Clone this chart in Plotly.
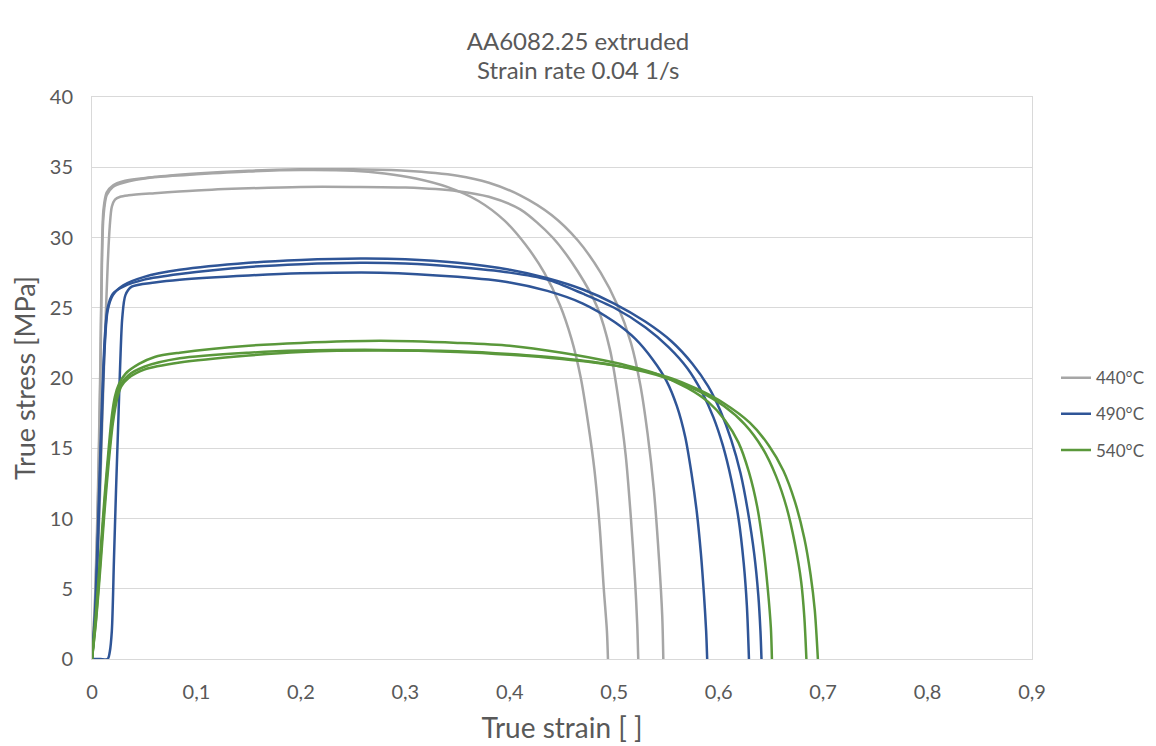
import plotly.graph_objects as go

# ---- data ----
temps = ["440°C", "490°C", "540°C"]
colors = {"440°C": "#A6A6A6", "490°C": "#2F5597", "540°C": "#5A983B"}
title_line1 = "AA6082.25 extruded"
title_line2 = "Strain rate 0.04 1/s"

# 440°C
g1_x = [0, 0.003, 0.006, 0.008, 0.0095, 0.011, 0.014, 0.02, 0.03, 0.06, 0.1, 0.15, 0.2, 0.25, 0.3, 0.35, 0.38, 0.41, 0.44, 0.465, 0.487, 0.503, 0.516, 0.525, 0.532, 0.538, 0.543, 0.546, 0.547]
g1_y = [0, 4, 12, 20, 28, 31.5, 33.0, 33.6, 33.9, 34.3, 34.55, 34.75, 34.85, 34.85, 34.75, 34.4, 33.9, 33.0, 31.6, 29.8, 27.5, 25.2, 22.5, 19.5, 16, 12, 7, 3, 0]
g2_x = [0, 0.003, 0.006, 0.008, 0.0095, 0.011, 0.014, 0.02, 0.03, 0.06, 0.1, 0.15, 0.2, 0.25, 0.28, 0.31, 0.34, 0.37, 0.395, 0.415, 0.433, 0.448, 0.459, 0.468, 0.475, 0.481, 0.486, 0.490, 0.493, 0.494]
g2_y = [0, 4.5, 13, 21, 29, 32, 33.2, 33.7, 34.0, 34.3, 34.5, 34.7, 34.8, 34.75, 34.55, 34.2, 33.6, 32.6, 31.2, 29.5, 27.5, 25.2, 22.8, 20, 16.8, 13.5, 9.5, 5, 2, 0]
g3_x = [0, 0.003, 0.006, 0.009, 0.012, 0.015, 0.017, 0.019, 0.022, 0.027, 0.035, 0.06, 0.1, 0.15, 0.2, 0.25, 0.3, 0.35, 0.38, 0.41, 0.441, 0.465, 0.484, 0.496, 0.504, 0.511, 0.516, 0.520, 0.522, 0.523]
g3_y = [0, 3, 8, 15, 22, 28, 30.8, 32.2, 32.7, 32.9, 33.0, 33.15, 33.35, 33.5, 33.6, 33.6, 33.55, 33.3, 32.9, 32.0, 30.0, 27.6, 25, 22, 18.5, 14.5, 10, 5.5, 2.5, 0]

# 490°C
b1_x = [0, 0.003, 0.006, 0.009, 0.012, 0.015, 0.02, 0.03, 0.05, 0.084, 0.15, 0.2, 0.257, 0.3, 0.35, 0.4, 0.436, 0.47, 0.5, 0.53, 0.555, 0.575, 0.59, 0.602, 0.612, 0.621, 0.628, 0.634, 0.638, 0.640, 0.641]
b1_y = [0, 3, 9, 16, 22, 24.8, 25.9, 26.6, 27.2, 27.7, 28.2, 28.4, 28.5, 28.45, 28.2, 27.7, 27.1, 26.3, 25.3, 24.0, 22.6, 21.0, 19.4, 17.6, 15.6, 13.2, 10.5, 7.5, 4.5, 2, 0]
b2_x = [0, 0.003, 0.006, 0.009, 0.012, 0.015, 0.02, 0.03, 0.05, 0.084, 0.15, 0.2, 0.257, 0.3, 0.35, 0.4, 0.436, 0.47, 0.5, 0.53, 0.552, 0.57, 0.584, 0.595, 0.604, 0.612, 0.619, 0.624, 0.627, 0.629]
b2_y = [0, 3.5, 10, 17, 22.5, 25, 26, 26.5, 27.0, 27.4, 27.9, 28.1, 28.2, 28.15, 27.9, 27.5, 27.0, 26.0, 25.0, 23.6, 22.2, 20.7, 19.0, 17.2, 15.2, 12.8, 10.0, 6.8, 3.8, 0]
b3_x = [0, 0.008, 0.015, 0.017, 0.019, 0.021, 0.023, 0.025, 0.027, 0.029, 0.032, 0.038, 0.06, 0.084, 0.15, 0.2, 0.276, 0.35, 0.4, 0.436, 0.47, 0.5, 0.52, 0.537, 0.55, 0.56, 0.568, 0.574, 0.579, 0.583, 0.586, 0.588, 0.589]
b3_y = [0, 0, 0, 0.5, 2, 7, 12, 16.5, 21, 24.3, 25.9, 26.5, 26.8, 27.0, 27.3, 27.45, 27.5, 27.2, 26.8, 26.2, 25.3, 24.0, 22.8, 21.3, 19.8, 18.0, 15.8, 13.2, 10.5, 7.5, 4.5, 2, 0]

# 540°C
r1_x = [0, 0.004, 0.008, 0.012, 0.016, 0.019, 0.022, 0.026, 0.032, 0.045, 0.06, 0.084, 0.15, 0.2, 0.276, 0.35, 0.4, 0.45, 0.5, 0.54, 0.57, 0.59, 0.606, 0.619, 0.629, 0.637, 0.643, 0.647, 0.650, 0.651]
r1_y = [0, 3.5, 7.5, 11.5, 15, 17.3, 18.7, 19.6, 20.3, 21.0, 21.5, 21.8, 22.3, 22.5, 22.65, 22.5, 22.3, 21.8, 21.1, 20.3, 19.3, 18.3, 17.0, 15.4, 13.3, 10.8, 7.8, 5, 2.2, 0]
r2_x = [0, 0.004, 0.008, 0.012, 0.016, 0.02, 0.024, 0.028, 0.035, 0.05, 0.084, 0.15, 0.2, 0.276, 0.35, 0.4, 0.45, 0.5, 0.55, 0.58, 0.605, 0.625, 0.642, 0.655, 0.665, 0.673, 0.679, 0.682, 0.684]
r2_y = [0, 3, 7, 11, 14.5, 17.2, 18.8, 19.6, 20.2, 20.8, 21.4, 21.8, 21.95, 22.0, 21.9, 21.7, 21.4, 20.9, 20.0, 19.1, 18.0, 16.7, 15.0, 13.0, 10.8, 8.2, 5.5, 3, 0]
r3_x = [0, 0.004, 0.008, 0.012, 0.016, 0.02, 0.024, 0.028, 0.035, 0.05, 0.084, 0.15, 0.2, 0.276, 0.35, 0.4, 0.45, 0.5, 0.55, 0.58, 0.605, 0.63, 0.648, 0.662, 0.673, 0.682, 0.688, 0.692, 0.695]
r3_y = [0, 2.8, 6.5, 10.5, 14, 16.8, 18.5, 19.4, 20.0, 20.6, 21.1, 21.6, 21.85, 21.95, 21.85, 21.65, 21.35, 20.9, 20.1, 19.2, 18.2, 16.8, 15.2, 13.4, 11.2, 8.6, 6.0, 3.5, 0]

curves = {
    "440°C": [(g1_x, g1_y), (g2_x, g2_y), (g3_x, g3_y)],
    "490°C": [(b1_x, b1_y), (b2_x, b2_y), (b3_x, b3_y)],
    "540°C": [(r1_x, r1_y), (r2_x, r2_y), (r3_x, r3_y)],
}

x_ticks = [0, 0.1, 0.2, 0.3, 0.4, 0.5, 0.6, 0.7, 0.8, 0.9]
y_ticks = [0, 5, 10, 15, 20, 25, 30, 35, 40]

FONT = "Lato"
TXT = "#595959"
W, H = 1148, 738  # page body has an 8px margin

fig = go.Figure()
for t in temps:
    for i, (xs, ys) in enumerate(curves[t]):
        fig.add_trace(go.Scatter(
            x=xs, y=ys, mode="lines", name=t, legendgroup=t,
            showlegend=(i == 0),
            line=dict(color=colors[t], width=2.5, shape="spline", smoothing=0.8),
        ))

fig.update_layout(
    width=W, height=H,
    paper_bgcolor="white", plot_bgcolor="white",
    margin=dict(l=84, r=124, t=89, b=87),
    separators=",.",
    font=dict(family=FONT, color=TXT, size=20),
    title=dict(text=title_line1,
               x=(578 - 8) / W, xanchor="center", y=1 - 34 / H, yanchor="middle",
               font=dict(family=FONT, size=24, color=TXT)),
    annotations=[dict(text=title_line2, xref="paper", yref="paper",
                      x=(578 - 92) / 940, y=1 + (89 - 62) / 562,
                      xanchor="center", yanchor="middle", showarrow=False,
                      font=dict(family=FONT, size=24, color=TXT))],
    showlegend=True,
    legend=dict(xref="container", x=1048 / W, xanchor="left",
                y=0.4356, yanchor="middle",
                font=dict(family=FONT, size=17, color=TXT),
                tracegroupgap=11, traceorder="grouped",
                itemwidth=30, bgcolor="rgba(0,0,0,0)"),
)
fig.update_xaxes(
    range=[0, 0.9], tickvals=x_ticks, showgrid=False, zeroline=False,
    showline=True, mirror=True, linecolor="#D9D9D9", linewidth=1,
    ticks="", ticklabelstandoff=15, automargin=False,
    title=dict(text="True strain [ ]", font=dict(family=FONT, size=28, color=TXT), standoff=16),
)
fig.update_yaxes(
    range=[0, 40], tickvals=y_ticks, showgrid=True, gridcolor="#D9D9D9", gridwidth=1,
    zeroline=False, showline=True, mirror=True, linecolor="#D9D9D9", linewidth=1,
    ticks="", ticklabelstandoff=14, automargin=False,
    title=dict(text="True stress [MPa]", font=dict(family=FONT, size=27, color=TXT), standoff=10),
)

fig.write_html("out.html")
